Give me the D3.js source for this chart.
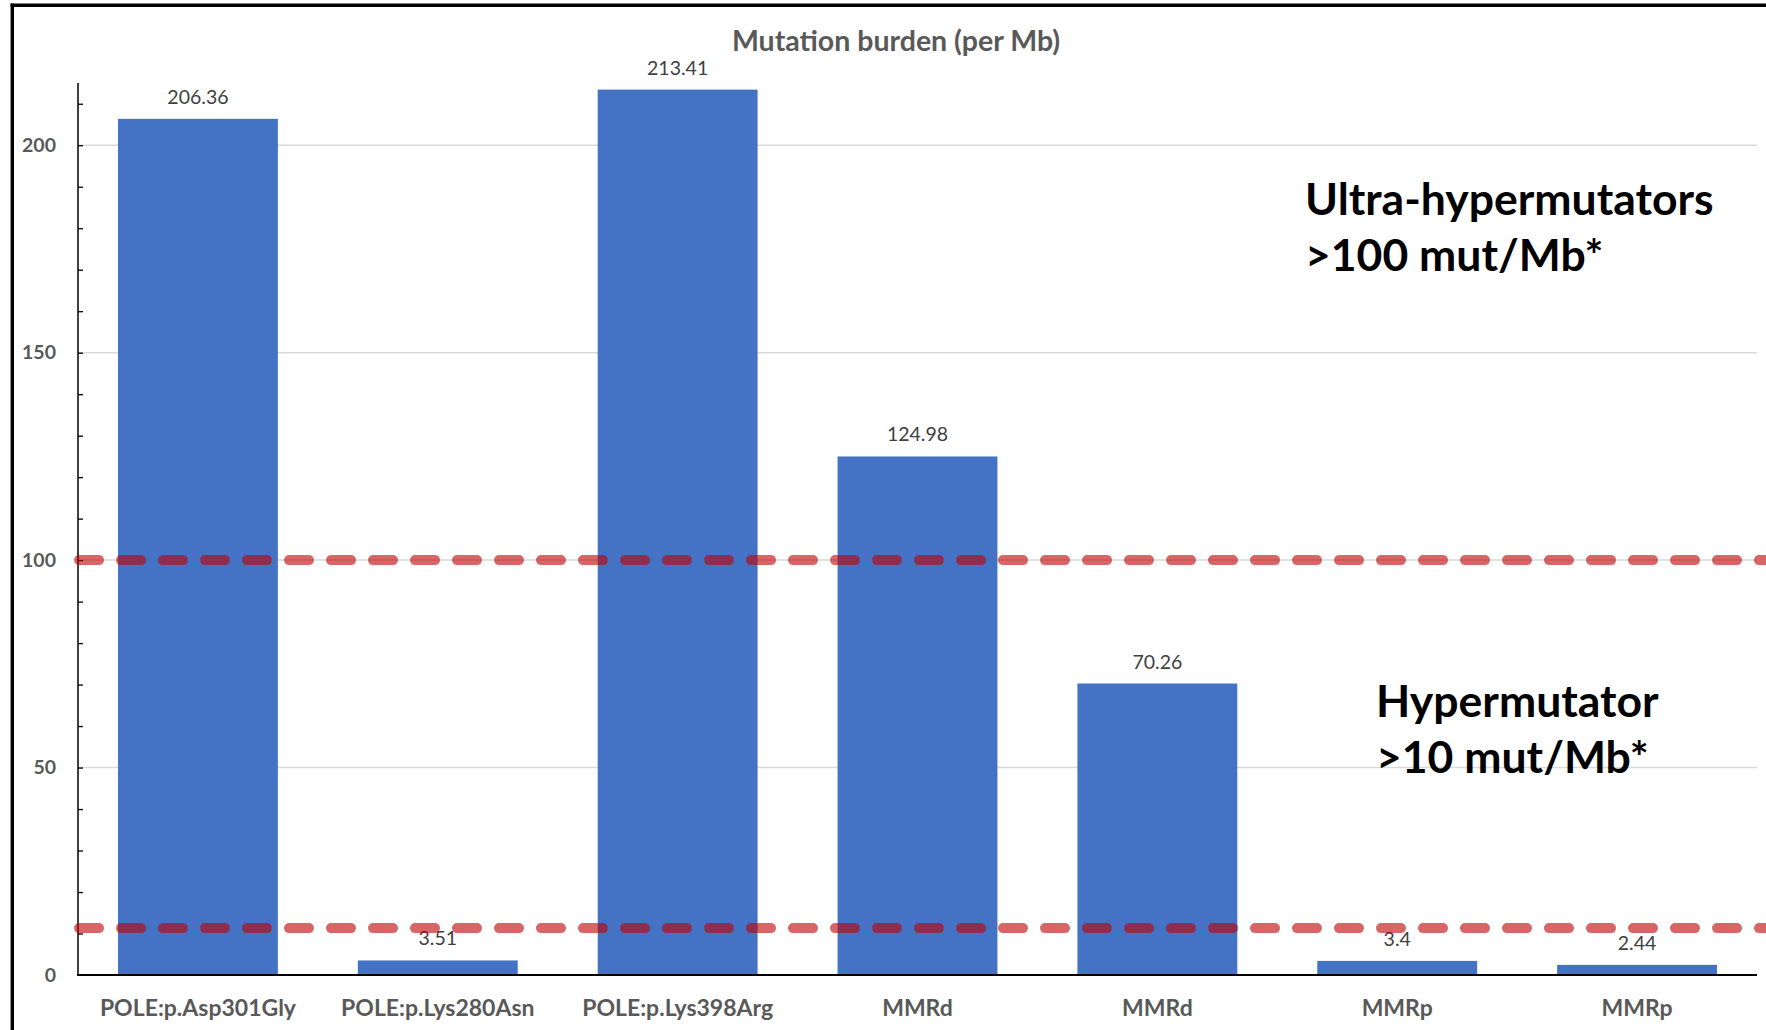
<!DOCTYPE html>
<html>
<head>
<meta charset="utf-8">
<script src="https://cdn.jsdelivr.net/npm/d3@7"></script>
<style>
  html, body { margin: 0; padding: 0; background: #fff; }
  svg { display: block; }
</style>
</head>
<body>
<svg id="chart" width="1766" height="1030"></svg>
<script>
// ---- data ----
const categories = ["POLE:p.Asp301Gly", "POLE:p.Lys280Asn", "POLE:p.Lys398Arg", "MMRd", "MMRd", "MMRp", "MMRp"];
const values = [206.36, 3.51, 213.41, 124.98, 70.26, 3.4, 2.44];
const valueLabels = ["206.36", "3.51", "213.41", "124.98", "70.26", "3.4", "2.44"];
const yMajorTicks = [0, 50, 100, 150, 200];
const yMinorTicks = [10, 20, 30, 40, 50, 60, 70, 80, 90, 100, 110, 120, 130, 140, 150, 160, 170, 180, 190, 200, 210];
const yMax = 215;
const thresholdValues = [100, 11.3];
const titleText = "Mutation burden (per Mb)";
const annotationLines = [
  ["Ultra-hypermutators", ">100 mut/Mb*"],
  ["Hypermutator", ">10 mut/Mb*"]
];

// ---- layout ----
const W = 1766, H = 1030;
const plot = { left: 78, right: 1757, top: 83, bottom: 975 };
const svg = d3.select("#chart");

const x = d3.scaleBand()
  .domain(d3.range(categories.length))
  .range([plot.left, plot.right])
  .paddingInner(1 / 3)
  .paddingOuter(1 / 6);

const y = d3.scaleLinear().domain([0, yMax]).range([plot.bottom, plot.top]);

// frame
svg.append("line").attr("x1", 12.3).attr("x2", 12.3).attr("y1", 3.5).attr("y2", H)
  .attr("stroke", "#000").attr("stroke-width", 3.4);
svg.append("line").attr("x1", 10.6).attr("x2", W).attr("y1", 5.2).attr("y2", 5.2)
  .attr("stroke", "#000").attr("stroke-width", 3.6);

// title
svg.append("text")
  .attr("x", 896).attr("y", 51)
  .attr("text-anchor", "middle")
  .attr("font-family", "Lato, 'Open Sans', sans-serif")
  .attr("font-weight", 700)
  .attr("font-size", 28.5)
  .attr("fill", "#595959")
  .text(titleText);

// gridlines
svg.append("g").selectAll("line")
  .data(yMajorTicks.filter(d => d > 0))
  .join("line")
  .attr("x1", plot.left).attr("x2", plot.right)
  .attr("y1", d => y(d)).attr("y2", d => y(d))
  .attr("stroke", "#d9d9d9").attr("stroke-width", 1.5);

// y axis (major labels)
const yAxis = d3.axisLeft(y).tickValues(yMajorTicks).tickSize(0).tickPadding(22);
const gy = svg.append("g").attr("transform", `translate(${plot.left},0)`).call(yAxis);
gy.select(".domain").remove();
gy.selectAll("text")
  .attr("font-family", "Lato, 'Open Sans', sans-serif")
  .attr("font-weight", 700)
  .attr("font-size", 19.5)
  .attr("fill", "#595959");

// minor ticks inside
const yMinor = d3.axisRight(y).tickValues(yMinorTicks).tickSize(5).tickFormat("");
const gym = svg.append("g").attr("transform", `translate(${plot.left},0)`).call(yMinor);
gym.select(".domain").remove();
gym.selectAll("line").attr("stroke", "#000").attr("stroke-width", 1.3);

// y axis line
svg.append("line")
  .attr("x1", plot.left).attr("x2", plot.left)
  .attr("y1", y(yMax)).attr("y2", y(0))
  .attr("stroke", "#000").attr("stroke-width", 1.5);

// bars
svg.append("g").selectAll("rect")
  .data(values)
  .join("rect")
  .attr("x", (d, i) => x(i))
  .attr("width", x.bandwidth())
  .attr("y", d => y(d))
  .attr("height", d => y(0) - y(d))
  .attr("fill", "#4472C4");

// value labels
svg.append("g").selectAll("text")
  .data(values)
  .join("text")
  .attr("x", (d, i) => x(i) + x.bandwidth() / 2)
  .attr("y", d => y(d) - 15)
  .attr("text-anchor", "middle")
  .attr("font-family", "Lato, 'Open Sans', sans-serif")
  .attr("font-size", 19.5)
  .attr("fill", "#404040")
  .text((d, i) => valueLabels[i]);

// x axis line
svg.append("line")
  .attr("x1", plot.left - 1).attr("x2", plot.right)
  .attr("y1", y(0)).attr("y2", y(0))
  .attr("stroke", "#000").attr("stroke-width", 2);

// category labels
const xAxis = d3.axisBottom(x).tickSize(0).tickPadding(25).tickFormat(i => categories[i]);
const gx = svg.append("g").attr("transform", `translate(0,${y(0)})`).call(xAxis);
gx.select(".domain").remove();
gx.selectAll("text")
  .attr("font-family", "Lato, 'Open Sans', sans-serif")
  .attr("font-weight", 700)
  .attr("font-size", 23)
  .attr("fill", "#595959");

// threshold dashed lines
svg.append("g").selectAll("line")
  .data(thresholdValues)
  .join("line")
  .attr("x1", plot.left + 1).attr("x2", W + 20)
  .attr("y1", d => y(d)).attr("y2", d => y(d))
  .attr("stroke", "#C00000")
  .attr("stroke-opacity", 0.6)
  .attr("stroke-width", 10)
  .attr("stroke-linecap", "round")
  .attr("stroke-dasharray", "20 22");

// annotations
const annotPos = [{ x: 1305, y: 215 }, { x: 1376, y: 717 }];
annotationLines.forEach((lines, k) => {
  const t = svg.append("text")
    .attr("x", annotPos[k].x).attr("y", annotPos[k].y)
    .attr("font-family", "Lato, 'Open Sans', sans-serif")
    .attr("font-weight", 700)
    .attr("font-size", 44.5)
    .attr("fill", "#000");
  lines.forEach((s, j) => {
    t.append("tspan").attr("x", annotPos[k].x).attr("dy", j === 0 ? 0 : 56).text(s);
  });
});
</script>
</body>
</html>
